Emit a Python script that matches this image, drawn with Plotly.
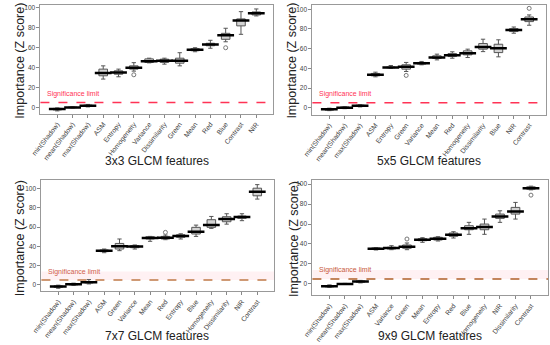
import plotly.graph_objects as go

# ---------------- data ----------------
cats_3 = ["min(Shadow)", "mean(Shadow)", "max(Shadow)", "ASM", "Entropy", "Homogeneity",
          "Variance", "Dissimilarity", "Green", "Mean", "Red", "Blue", "Contrast", "NIR"]
lo_3 = [-3.5, -0.6, 0.5, 28.5, 30.8, 36.5, 44.8, 43.5, 41.8, 56.0, 59.5, 66.0, 73.5, 92.0]
q1_3 = [-2.5, -0.3, 1.0, 31.8, 33.4, 38.5, 45.2, 45.2, 44.5, 57.0, 62.0, 68.5, 82.0, 93.0]
med_3 = [-1.7, 0.0, 1.7, 34.5, 35.0, 40.0, 46.5, 46.8, 46.8, 58.0, 63.3, 72.5, 87.5, 94.6]
q3_3 = [-1.0, 0.3, 2.3, 38.5, 36.8, 41.8, 48.8, 48.5, 49.5, 59.0, 64.5, 74.5, 89.0, 96.0]
hi_3 = [-0.5, 0.6, 3.0, 41.8, 38.5, 45.0, 49.5, 49.5, 55.0, 60.0, 67.5, 79.6, 96.3, 99.0]
out_x_3 = ["Homogeneity", "Blue"]
out_y_3 = [32.8, 60.0]

cats_5 = ["min(Shadow)", "mean(Shadow)", "max(Shadow)", "ASM", "Entropy", "Green", "Variance",
          "Mean", "Red", "Homogeneity", "Dissimilarity", "Blue", "NIR", "Contrast"]
lo_5 = [-3.0, -1.0, 0.8, 31.4, 40.0, 36.8, 43.6, 48.6, 50.3, 51.0, 57.0, 51.7, 75.7, 83.8]
q1_5 = [-2.5, -0.5, 1.3, 32.4, 40.5, 39.2, 44.3, 50.0, 52.0, 53.7, 59.5, 56.0, 77.4, 87.5]
med_5 = [-1.7, 0.0, 2.0, 33.4, 40.9, 41.5, 45.3, 51.0, 53.4, 55.4, 61.8, 60.5, 79.0, 90.0]
q3_5 = [-1.0, 0.7, 2.6, 34.8, 41.3, 43.6, 46.0, 52.7, 55.0, 57.8, 65.2, 64.5, 80.4, 92.2]
hi_5 = [-0.5, 1.0, 3.0, 36.1, 42.9, 46.0, 47.0, 54.4, 56.8, 59.5, 69.6, 69.0, 82.0, 94.3]
out_x_5 = ["Green", "Contrast"]
out_y_5 = [32.8, 101.0]

cats_7 = ["min(Shadow)", "mean(Shadow)", "max(Shadow)", "ASM", "Green", "Variance", "Mean",
          "Red", "Entropy", "Blue", "Homogeneity", "Dissimilarity", "NIR", "Contrast"]
lo_7 = [-3.5, -0.5, 1.0, 33.4, 35.5, 37.2, 45.2, 46.9, 47.6, 50.3, 58.6, 63.0, 66.6, 89.0]
q1_7 = [-2.5, 0.0, 2.0, 34.5, 37.2, 38.6, 47.6, 47.6, 49.3, 52.8, 59.7, 65.5, 69.0, 92.4]
med_7 = [-1.7, 0.7, 2.8, 35.5, 40.0, 39.7, 48.6, 49.0, 50.7, 55.2, 62.0, 68.3, 70.3, 96.5]
q3_7 = [-1.0, 1.2, 3.3, 36.2, 43.0, 40.7, 50.0, 50.3, 52.0, 59.7, 67.6, 70.7, 71.4, 100.3]
hi_7 = [-0.3, 1.8, 5.5, 37.2, 47.6, 41.4, 50.3, 51.7, 53.0, 62.0, 71.0, 73.8, 73.8, 104.0]
out_x_7 = ["Red"]
out_y_7 = [54.5]

cats_9 = ["min(Shadow)", "mean(Shadow)", "max(Shadow)", "ASM", "Variance", "Green", "Mean",
          "Entropy", "Red", "Blue", "Homogeneity", "NIR", "Dissimilarity", "Contrast"]
lo_9 = [-3.5, -0.5, 1.0, 34.0, 34.3, 34.3, 41.7, 43.0, 46.0, 49.7, 49.7, 61.7, 65.0, 94.3]
q1_9 = [-3.0, -0.3, 1.7, 34.7, 35.0, 35.7, 43.3, 44.0, 47.7, 54.3, 54.3, 65.7, 70.0, 95.0]
med_9 = [-2.3, 0.0, 2.3, 35.3, 36.0, 37.3, 44.3, 45.3, 49.3, 55.7, 57.0, 67.7, 72.7, 96.0]
q3_9 = [-1.7, 0.3, 3.0, 36.0, 36.7, 39.0, 45.3, 46.7, 51.0, 58.3, 60.0, 70.0, 76.7, 97.3]
hi_9 = [-1.0, 0.5, 3.5, 36.3, 38.3, 41.0, 46.3, 47.3, 52.3, 61.7, 65.0, 73.3, 81.7, 98.0]
out_x_9 = ["Green", "Contrast"]
out_y_9 = [45.0, 89.0]

titles = ["3x3 GLCM features", "5x5 GLCM features", "7x7 GLCM features", "9x9 GLCM features"]
y_title = "Importance (Z score)"
sig_label = "Significance limit"
sig_limit = 5
y_ticks = [0, 20, 40, 60, 80, 100]

# ---------------- figure ----------------
FONT = "Liberation Sans, Arial, sans-serif"
W, H = 550, 345
panels = [
    (cats_3, lo_3, q1_3, med_3, q3_3, hi_3, out_x_3, out_y_3),
    (cats_5, lo_5, q1_5, med_5, q3_5, hi_5, out_x_5, out_y_5),
    (cats_7, lo_7, q1_7, med_7, q3_7, hi_7, out_x_7, out_y_7),
    (cats_9, lo_9, q1_9, med_9, q3_9, hi_9, out_x_9, out_y_9),
]
# plot-area boxes in pixels: (left, right, top, bottom)
boxes = [(31, 268, 4, 113), (308, 546, 4, 114), (32, 269, 180, 291), (308, 548, 180, 295)]
yranges = [[-6.3, 103], [-7.1, 104.4], [-6.5, 108.3], [-11.3, 103.7]]
xtitle_pos = [(150, 160), (427, 160), (150, 336), (428, 336)]
ytitle_pos = [(10, 60), (287, 60), (10, 238), (290, 239)]
line_cols = ["#ff3355", "#ff3355", "#c07a48", "#b0602a"]
text_cols = ["#ff3355", "#ff3355", "#d0604a", "#c85a3c"]

fig = go.Figure()
layout = {}
for i, (cats, lo, q1, med, q3, hi, ox, oy) in enumerate(panels):
    n = "" if i == 0 else str(i + 1)
    xa, ya = "x" + n, "y" + n
    l, r, t, b = boxes[i]
    fig.add_trace(go.Box(
        x=cats, q1=q1, median=med, q3=q3, lowerfence=lo, upperfence=hi,
        xaxis=xa, yaxis=ya, fillcolor="#d3d3d3",
        line=dict(color="#555555", width=1), whiskerwidth=0.5,
        boxpoints=False, showlegend=False, hoverinfo="skip"))
    fig.add_trace(go.Scatter(
        x=cats, y=med, xaxis=xa, yaxis=ya, mode="markers",
        marker=dict(symbol="line-ew", size=12, line=dict(width=2.5, color="black")),
        showlegend=False, hoverinfo="skip"))
    fig.add_trace(go.Scatter(
        x=ox, y=oy, xaxis=xa, yaxis=ya, mode="markers",
        marker=dict(symbol="circle-open", size=4, color="#777777", line=dict(width=1)),
        showlegend=False, hoverinfo="skip"))
    layout["xaxis" + n] = dict(
        domain=[l / W, r / W], anchor=ya, categoryorder="array", categoryarray=cats,
        range=[-1.1, 14.1], tickangle=-52, tickfont=dict(size=6.8, color="#444444"),
        ticks="outside", ticklen=3, tickcolor="#888888", showline=True, mirror=True,
        linecolor="#999999", linewidth=1, showgrid=False, zeroline=False)
    layout["yaxis" + n] = dict(
        domain=[1 - b / H, 1 - t / H], anchor=xa, range=yranges[i], tickvals=y_ticks,
        tickfont=dict(size=6.5, color="#444444"), ticks="outside", ticklen=3,
        tickcolor="#888888", showline=True, mirror=True, linecolor="#999999",
        linewidth=1, showgrid=False, zeroline=False)
    if i >= 2:
        fig.add_shape(type="rect", xref=xa + " domain", yref=ya, x0=0, x1=1,
                      y0=sig_limit, y1=sig_limit + 9, fillcolor="rgba(255,190,200,0.22)",
                      line=dict(width=0), layer="below")
    fig.add_shape(type="line", xref=xa + " domain", yref=ya, x0=0, x1=1,
                  y0=sig_limit, y1=sig_limit, line=dict(color=line_cols[i], width=1.5, dash="dash"))
    fig.add_annotation(xref=xa + " domain", yref=ya, x=0.02, y=sig_limit + 2.5,
                       text=sig_label, showarrow=False, xanchor="left",
                       yanchor="bottom", font=dict(size=7, color=text_cols[i]))
    # axis titles
    fig.add_annotation(xref="paper", yref="paper", x=xtitle_pos[i][0] / W,
                       y=1 - xtitle_pos[i][1] / H, text=titles[i], showarrow=False,
                       xanchor="center", yanchor="middle",
                       font=dict(size=12, color="#222222"))
    fig.add_annotation(xref="paper", yref="paper", x=ytitle_pos[i][0] / W,
                       y=1 - ytitle_pos[i][1] / H, text=y_title, showarrow=False,
                       textangle=-90, xanchor="center", yanchor="middle",
                       font=dict(size=12.5, color="#222222"))

fig.update_layout(
    width=W, height=H, margin=dict(l=0, r=0, t=0, b=0),
    paper_bgcolor="white", plot_bgcolor="white", boxgap=0.2,
    font=dict(family=FONT), showlegend=False, **layout)

fig.write_html("out.html", config={"displayModeBar": False},
               post_script="document.body.style.margin='0';document.body.style.overflow='hidden';")
